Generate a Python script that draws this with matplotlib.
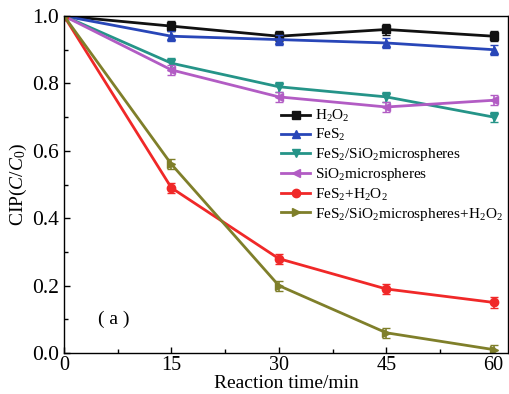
import matplotlib
matplotlib.use("Agg")
import matplotlib.pyplot as plt

plt.rcParams['font.family'] = ['Liberation Serif', 'DejaVu Serif']
plt.rcParams['mathtext.fontset'] = 'custom'
plt.rcParams['mathtext.rm'] = 'Liberation Serif'
plt.rcParams['mathtext.it'] = 'Liberation Serif:italic'

time = [0, 15, 30, 45, 60]
labels = [r'H$_2$O$_2$', r'FeS$_2$', r'FeS$_2$/SiO$_2$microspheres',
          r'SiO$_2$microspheres', r'FeS$_2$+H$_2$O$_2$',
          r'FeS$_2$/SiO$_2$microspheres+H$_2$O$_2$']
h2o2 = [1.0, 0.97, 0.94, 0.96, 0.94]
fes2 = [1.0, 0.94, 0.93, 0.92, 0.90]
fes2_sio2 = [1.0, 0.86, 0.79, 0.76, 0.70]
sio2 = [1.0, 0.84, 0.76, 0.73, 0.75]
fes2_h2o2 = [1.0, 0.49, 0.28, 0.19, 0.15]
fes2_sio2_h2o2 = [1.0, 0.56, 0.20, 0.06, 0.01]
errors = [0.0, 0.015, 0.015, 0.015, 0.015]

series = [h2o2, fes2, fes2_sio2, sio2, fes2_h2o2, fes2_sio2_h2o2]
colors = ['#111111', '#2846b8', '#259488', '#b25cc4', '#f02828', '#7f7f2a']
markers = ['s', '^', 'v', '<', 'o', '>']

fig = plt.figure(figsize=(5.09, 3.94), dpi=100)
ax = fig.add_axes([64/509, 1-353/394, (508-64)/509, (353-16)/394])

handles = []
for y, c, m, lab in zip(series, colors, markers, labels):
    ax.errorbar(time, y, yerr=errors, color=c, fmt='none',
                elinewidth=1.2, capsize=3)
    h, = ax.plot(time, y, color=c, marker=m, markersize=6,
                 linewidth=2, label=lab)
    handles.append(h)

ax.set_xlim(0, 62)
ax.set_ylim(0, 1.0)
ax.set_xticks([0, 15, 30, 45, 60])
ax.set_xticks([7.5, 22.5, 37.5, 52.5], minor=True)
ax.set_yticks([0.0, 0.2, 0.4, 0.6, 0.8, 1.0])
ax.set_yticklabels(['0.0', '0.2', '0.4', '0.6', '0.8', '1.0'])
ax.set_yticks([0.1, 0.3, 0.5, 0.7, 0.9], minor=True)
ax.tick_params(which='both', direction='in', labelsize=15.5, length=4, width=1)
ax.tick_params(axis='x', pad=2.5, labelsize=14.5)
ax.tick_params(which='minor', length=3)
ax.set_xlabel('Reaction time/min', fontsize=14, labelpad=-0.5)
ax.set_ylabel(r'CIP($\mathit{C}$/$\mathit{C}_0$)', fontsize=14, labelpad=2)
for s in ax.spines.values():
    s.set_linewidth(1)

ax.text(7, 0.1, '( a )', fontsize=14, ha='center', va='center')

ax.legend(handles=handles, loc='upper left', bbox_to_anchor=(0.475, 0.745),
          frameon=False, fontsize=11, handlelength=1.9, handletextpad=0.3,
          labelspacing=0.2, borderaxespad=0)

fig.savefig('out.png', dpi=100)
